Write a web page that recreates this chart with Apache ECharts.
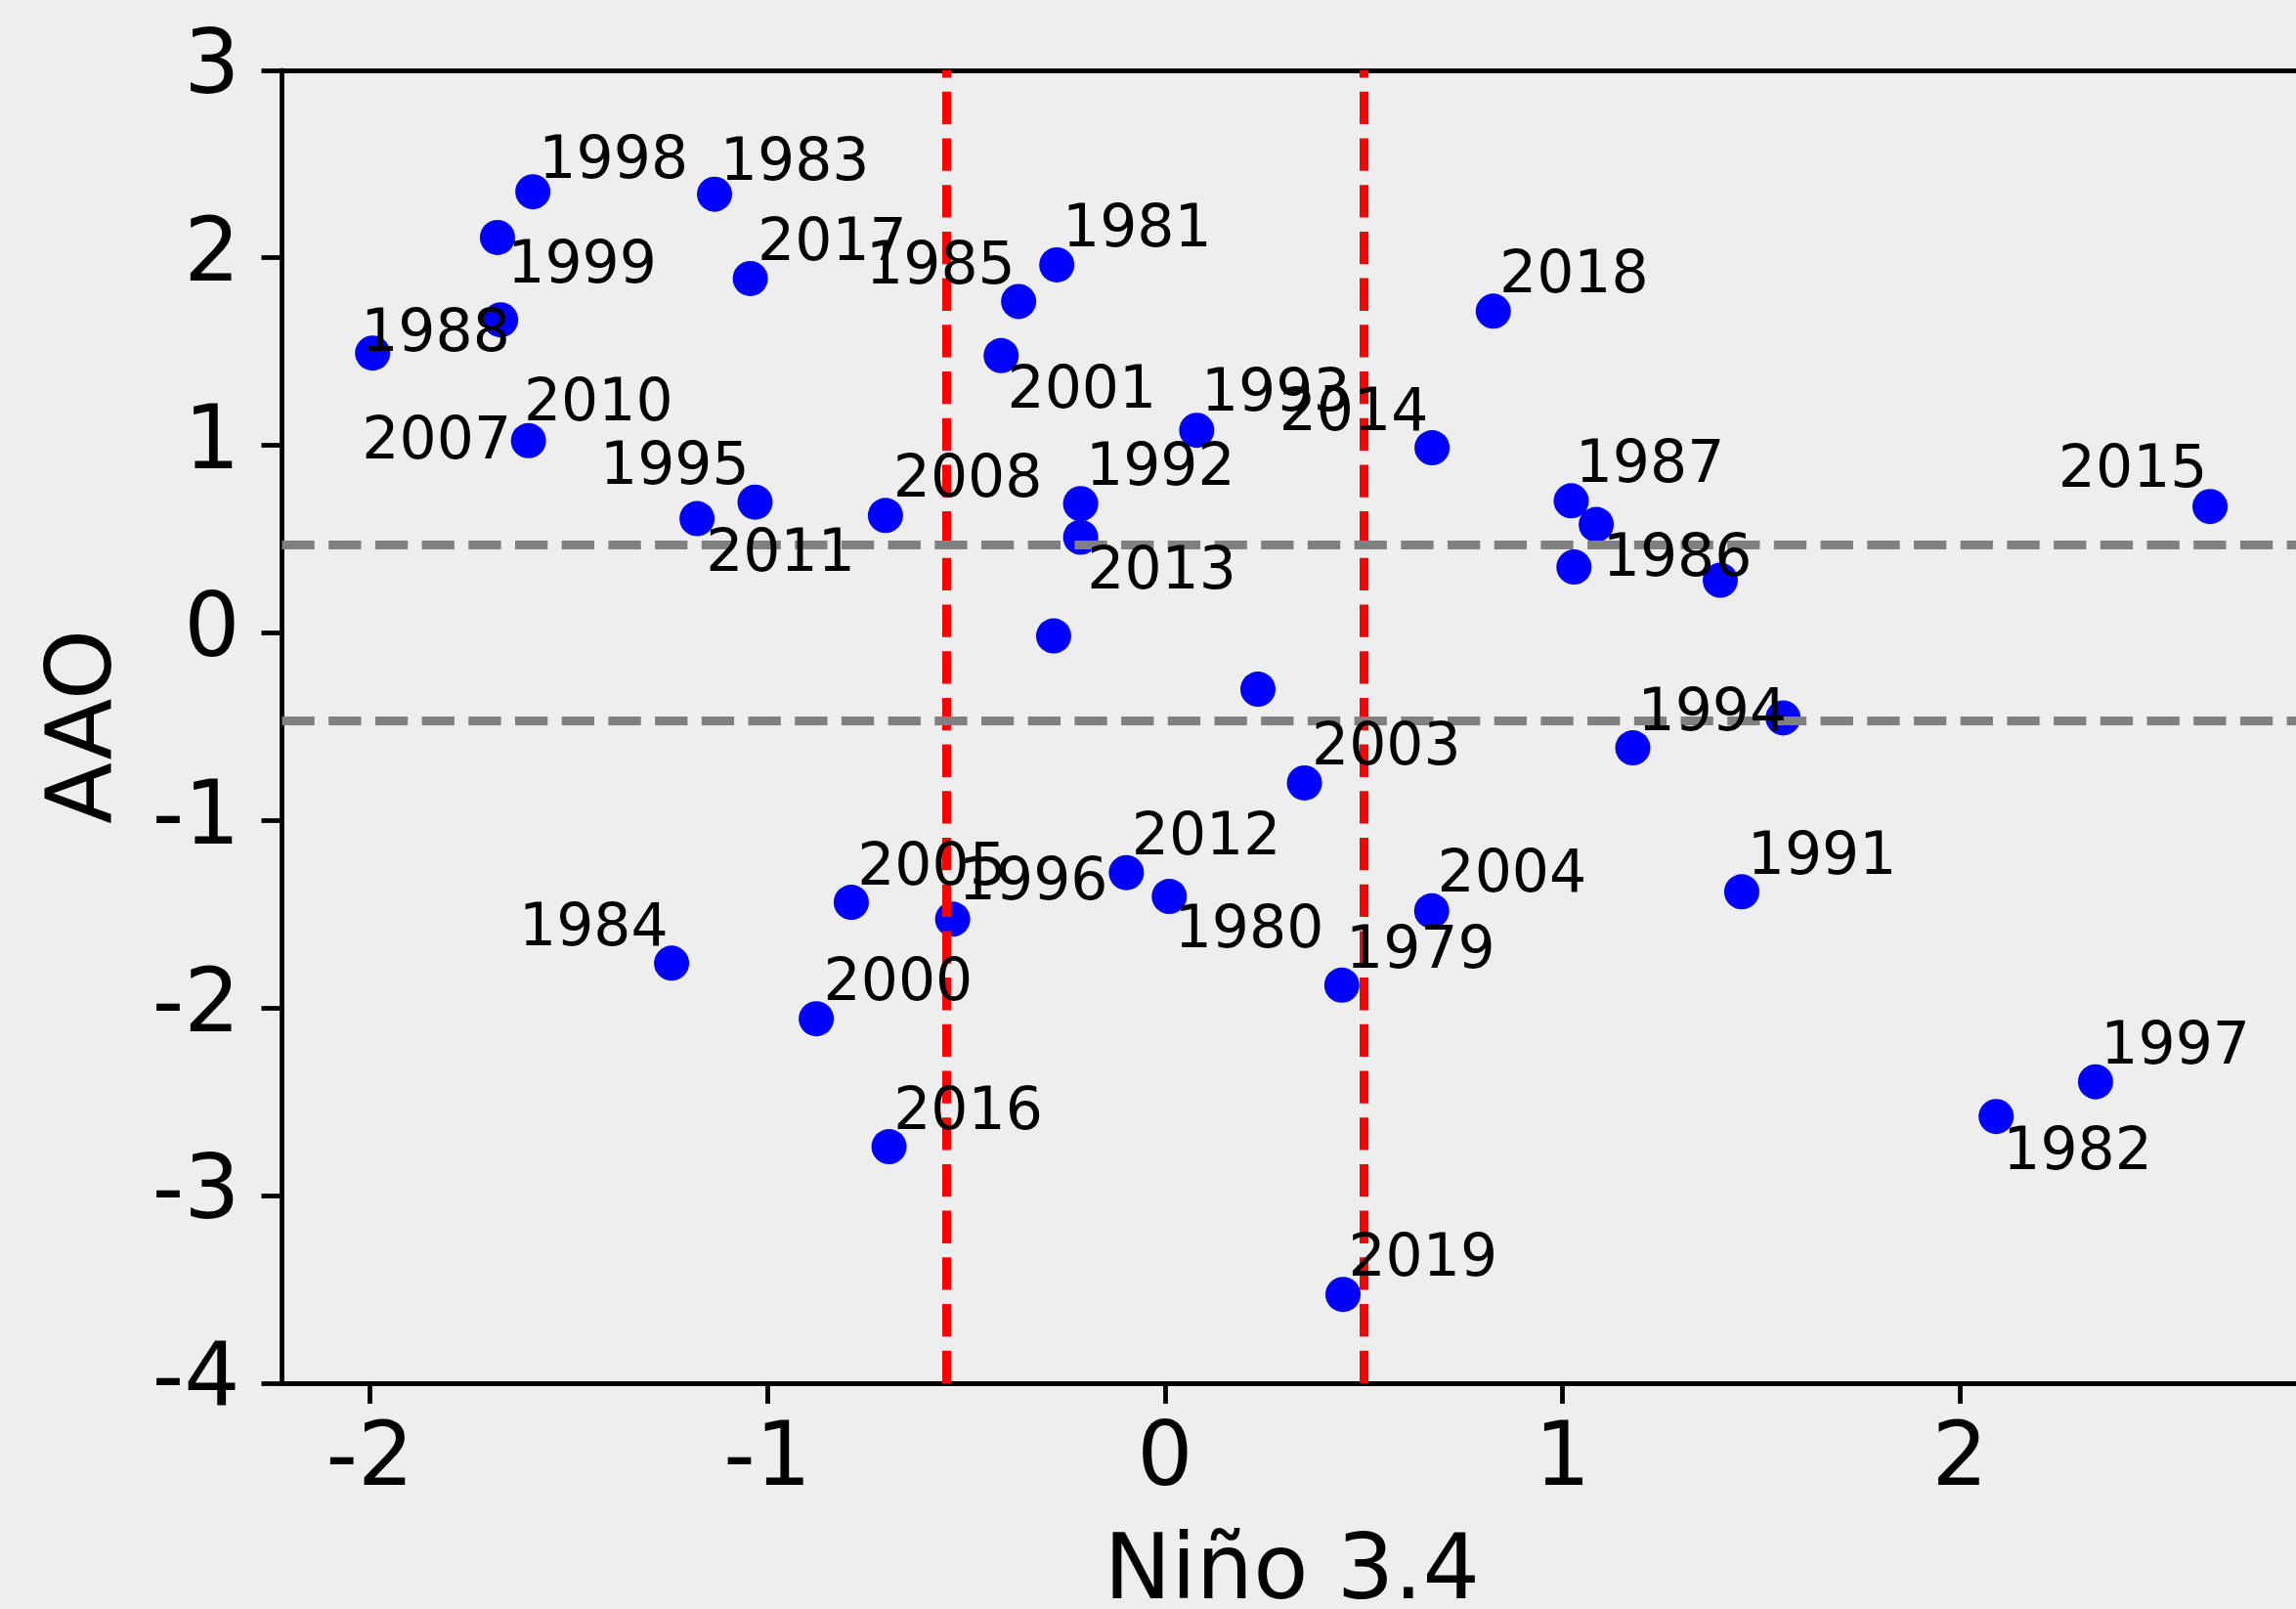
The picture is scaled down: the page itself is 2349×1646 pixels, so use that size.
<!DOCTYPE html>
<html>
<head>
<meta charset="utf-8">
<script src="https://cdn.jsdelivr.net/npm/echarts@6/dist/echarts.min.js"></script>
<style>
  html, body { margin: 0; padding: 0; background: #eeeeee; }
  #chart { width: 2349px; height: 1646px; }
</style>
</head>
<body>
<div id="chart"></div>
<script>
// Scatter points: Niño 3.4 (x) vs AAO (y)
const nino = [-1.590, -1.133, -1.679, -1.043, -1.671, -1.993, -1.601, -1.031, -1.177,
  -0.272, -0.368, -0.412, 0.080, 0.672, 0.826, -0.703, -0.212, -0.212, -0.280, 0.234,
  1.022, 1.085, 1.029, 1.397, 2.629, 1.555, 1.177, 0.351, -0.789, -0.534, -0.097,
  0.011, 0.671, 0.445, -0.877, -0.694, 0.448, 1.451, 2.341, 2.091, -1.241];
const aao = [2.352, 2.339, 2.108, 1.889, 1.669, 1.492, 1.025, 0.697, 0.609,
  1.962, 1.767, 1.478, 1.080, 0.987, 1.715, 0.626, 0.689, 0.510, -0.016, -0.300,
  0.704, 0.578, 0.351, 0.281, 0.674, -0.453, -0.613, -0.800, -1.436, -1.526, -1.278,
  -1.405, -1.482, -1.878, -2.057, -2.739, -3.527, -1.380, -2.393, -2.578, -1.761];

// Year annotations (text anchor in data coordinates)
const annoText = ['1998','1983','1999','1988','2010','2007','1995','2017','1985','1981',
  '2001','1993','2014','2008','1992','2011','2013','2018','1987','1986','2015','1994',
  '2003','2012','2005','1996','1980','2004','1979','2000','2016','2019','1984','1991',
  '1997','1982'];
const annoX = [-1.587, -1.131, -1.666, -2.035, -1.625, -2.032, -1.433, -1.037, -0.764, -0.270,
  -0.409, 0.079, 0.275, -0.696, -0.211, -1.167, -0.208, 0.829, 1.020, 1.089, 2.235, 1.177,
  0.357, -0.096, -0.786, -0.531, 0.012, 0.673, 0.443, -0.871, -0.695, 0.449, -1.637, 1.453,
  2.342, 2.096];
const annoY = [2.537, 2.528, 1.980, 1.615, 1.246, 1.042, 0.907, 2.098, 1.976, 2.172,
  1.315, 1.298, 1.194, 0.841, 0.903, 0.445, 0.347, 1.928, 0.917, 0.418, 0.889, -0.406,
  -0.591, -1.068, -1.229, -1.310, -1.564, -1.265, -1.670, -1.844, -2.532, -3.315, -1.553, -1.171,
  -2.183, -2.746];

// Threshold lines
const ninoThresholds = [-0.55, 0.5];
const aaoThresholds = [0.468, -0.466];

// Axes
const xRange = [-2.221, 2.860];
const yRange = [-4, 3];
const xTicks = [-2, -1, 0, 1, 2];
const xName = 'Niño 3.4';
const yName = 'AAO';

const FONT = 'DejaVu Sans';
const chart = echarts.init(document.getElementById('chart'), null, { renderer: 'canvas' });

const axisLine = { show: true, onZero: false, lineStyle: { color: '#000', width: 4.8 } };
const dash = [33.3, 14.4];

chart.setOption({
  backgroundColor: '#eeeeee',
  animation: false,
  grid: { left: 288.5, top: 71.8, width: 2066.5, height: 1343.2, containLabel: false, outerBoundsMode: 'none' },
  xAxis: [{
    type: 'value', min: xRange[0], max: xRange[1], position: 'bottom',
    axisLine: axisLine,
    axisTick: { show: true, length: 21, inside: false, customValues: xTicks, lineStyle: { color: '#000', width: 4.8 } },
    axisLabel: { customValues: xTicks, margin: 36, fontSize: 90, fontFamily: FONT, color: '#000' },
    splitLine: { show: false },
    name: xName, nameLocation: 'middle', nameGap: 150,
    nameTextStyle: { fontSize: 92, fontFamily: FONT, color: '#000' }
  }, {
    type: 'value', min: xRange[0], max: xRange[1], position: 'top',
    axisLine: axisLine, axisTick: { show: false }, axisLabel: { show: false }, splitLine: { show: false }
  }],
  yAxis: {
    type: 'value', min: yRange[0], max: yRange[1], interval: 1,
    axisLine: axisLine,
    axisTick: { show: true, length: 21, lineStyle: { color: '#000', width: 4.8 } },
    axisLabel: { margin: 43, fontSize: 90, fontFamily: FONT, color: '#000' },
    splitLine: { show: false },
    name: yName, nameLocation: 'middle', nameGap: 153, nameRotate: 90,
    nameTextStyle: { fontSize: 92, fontFamily: FONT, color: '#000' }
  },
  series: [
    {
      type: 'scatter', z: 2, silent: true,
      data: nino.map((x, i) => [x, aao[i]]),
      symbolSize: 36,
      itemStyle: { color: '#0000ff', opacity: 1 }
    },
    {
      type: 'scatter', z: 3, silent: true, data: [],
      markLine: {
        silent: true, symbol: ['none', 'none'], animation: false,
        label: { show: false },
        data: ninoThresholds.map(v => ({ xAxis: v, lineStyle: { color: '#ff0000', width: 9, type: dash } }))
          .concat(aaoThresholds.map(v => ({ yAxis: v, lineStyle: { color: '#808080', width: 9, type: dash } })))
      }
    },
    {
      type: 'scatter', z: 5, silent: true,
      data: annoX.map((x, i) => ({ value: [x, annoY[i]], name: annoText[i] })),
      symbolSize: 0,
      itemStyle: { color: 'transparent' },
      label: {
        show: true, formatter: '{b}', position: [5, 6], align: 'left', verticalAlign: 'middle',
        fontSize: 60, fontFamily: FONT, color: '#000000', opacity: 1, textBorderWidth: 0
      },
      labelLayout: { hideOverlap: false }
    }
  ]
});
</script>
</body>
</html>
